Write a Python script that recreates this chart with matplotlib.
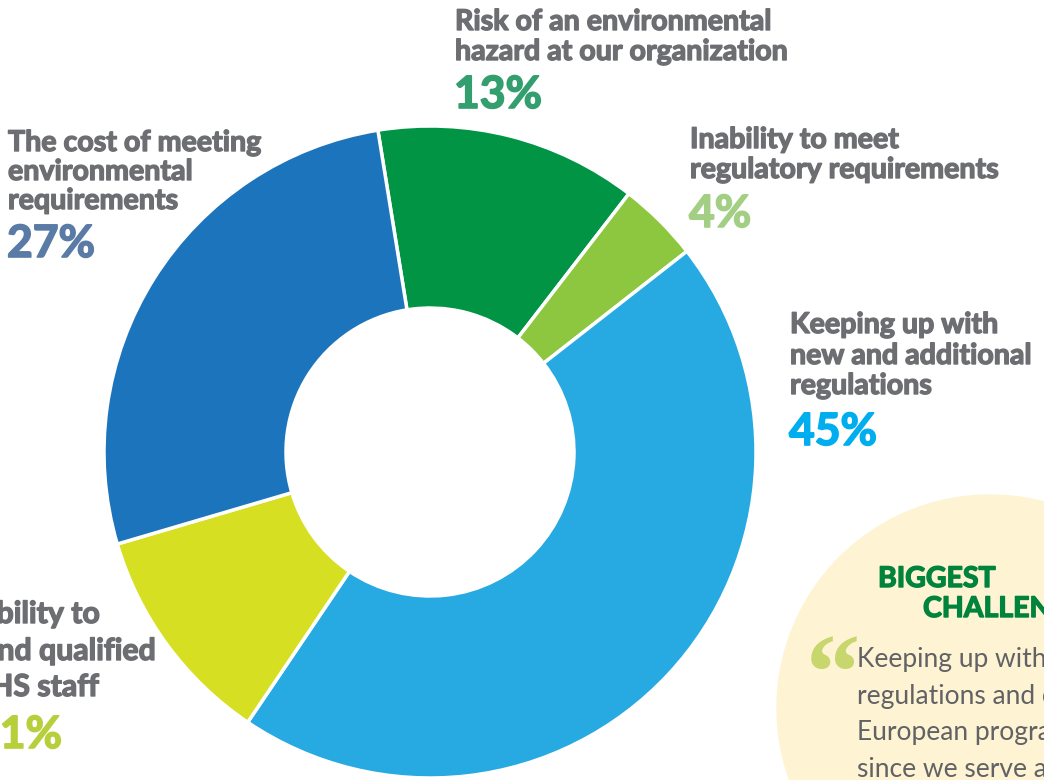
import matplotlib.pyplot as plt
import matplotlib.patheffects as pe
from matplotlib.patches import Circle

# environmental challenges, clockwise from the top
categories = ['Risk of an environmental\nhazard at our organization',
              'Inability to meet\nregulatory requirements',
              'Keeping up with\nnew and additional\nregulations',
              'Inability to\nfind qualified\nEHS staff',
              'The cost of meeting\nenvironmental\nrequirements']
values = [13, 4, 45, 11, 27]
slice_colors = ['#009444', '#8DC63F', '#27A9E1', '#D7DF23', '#1C75BC']
pct_colors = ['#339E6E', '#A3CF85', '#00AEEF', '#B8CF3C', '#5A7BA6']

quote_title = ['BIGGEST', 'CHALLENGE']
quote_lines = ['Keeping up with new', 'regulations and changes in',
               'European programs,', 'since we serve all of Europe']

plt.rcParams['font.family'] = ['Lato', 'DejaVu Sans']
GRAY = '#6D6E71'
H = 780

fig = plt.figure(figsize=(10.44, 7.8), dpi=100)
ax = fig.add_axes([0, 0, 1, 1])

# yellow quote bubble behind everything
ax.add_patch(Circle((990, H - 708), 213, color='#FEF3D2', zorder=0))

ax.pie(values, colors=slice_colors, startangle=99.2, counterclock=False,
       center=(430, H - 452), radius=326,
       wedgeprops=dict(width=182, edgecolor='white', linewidth=2.5))

ax.set_xlim(0, 1044)
ax.set_ylim(0, H)
ax.set_aspect('equal')
ax.axis('off')


def heavy(color, w=1.0):
    # lato bold is a bit light next to the original, thicken it
    return [pe.withStroke(linewidth=w, foreground=color)]


def put_lines(lines, xs, baselines, ha, size):
    for line, x, y in zip(lines, xs, baselines):
        ax.text(x, H - y, line, ha=ha, va='baseline', fontsize=size,
                fontweight='bold', color=GRAY, path_effects=heavy(GRAY))


# x, label baselines, percent baseline
spots = {0: (455, [30, 60], 108),
         1: (690, [148, 178], 227),
         2: (790, [333, 364, 394], 445),
         4: (8, [151, 180, 209], 257)}
for i, (x, bases, ypct) in spots.items():
    lines = categories[i].split('\n')
    put_lines(lines, [x] * len(lines), bases, 'left', 20.6)
    ax.text(x - 1, H - ypct, f'{values[i]}%', ha='left', va='baseline',
            fontsize=32, fontweight='bold', color=pct_colors[i],
            path_effects=heavy(pct_colors[i], 1.2))

# left label is cut off by the edge, place lines by their right end
put_lines(categories[3].split('\n'), [100, 156, 99], [623, 660, 696], 'right', 21.8)
ax.text(62, H - 748, f'{values[3]}%', ha='right', va='baseline',
        fontsize=32, fontweight='bold', color=pct_colors[3],
        path_effects=heavy(pct_colors[3], 1.2))

GREEN = '#00843D'
ax.text(878, H - 587, quote_title[0], ha='left', va='baseline', fontsize=20.5,
        fontweight='bold', color=GREEN, path_effects=heavy(GREEN))
ax.text(923, H - 617, quote_title[1], ha='left', va='baseline', fontsize=20.5,
        fontweight='bold', color=GREEN, path_effects=heavy(GREEN))
ax.text(806, H - 708, '\u201c', ha='left', va='baseline', fontsize=78,
        fontweight='bold', color='#C8D66E', family='Liberation Serif')
for k, line in enumerate(quote_lines):
    ax.text(857, H - (667 + k * 36.7), line, ha='left', va='baseline',
            fontsize=19, color='#616265')

fig.savefig('out.png', dpi=100)
